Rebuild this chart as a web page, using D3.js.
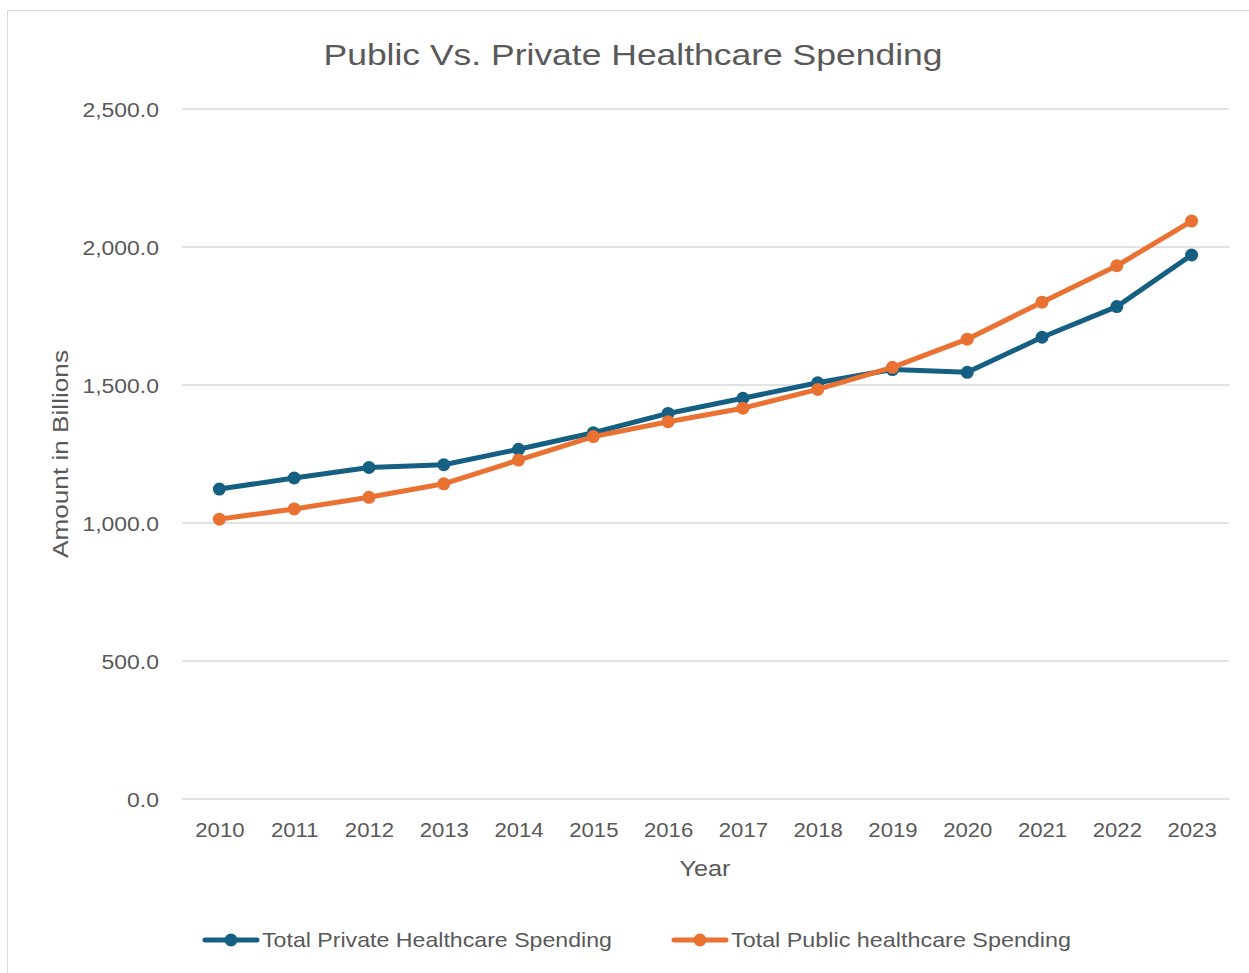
<!DOCTYPE html>
<html>
<head>
<meta charset="utf-8">
<script src="https://cdn.jsdelivr.net/npm/d3@7"></script>
<style>
  html, body { margin: 0; padding: 0; background: #fff; }
  svg { display: block; }
  text { font-family: "Liberation Sans", Arial, sans-serif; fill: #595959; }
</style>
</head>
<body>
<svg id="chart" width="1249" height="973"></svg>
<script>
const years = [2010, 2011, 2012, 2013, 2014, 2015, 2016, 2017, 2018, 2019, 2020, 2021, 2022, 2023];
const privateSpending = [1123, 1163, 1201, 1211, 1267, 1327, 1397, 1452, 1508, 1556, 1546, 1673, 1784, 1971];
const publicSpending = [1014, 1051, 1093, 1142, 1228, 1313, 1367, 1416, 1484, 1564, 1666, 1800, 1932, 2094];
const yTicks = [0, 500, 1000, 1500, 2000, 2500];
const seriesNames = ["Total Private Healthcare Spending", "Total Public healthcare Spending"];
const seriesColors = ["#156082", "#E97132"];

const svg = d3.select("#chart");

// widen a text element horizontally by a factor
function stretch(sel, factor) {
  sel.each(function () {
    const w = this.getComputedTextLength();
    d3.select(this)
      .attr("textLength", w * factor)
      .attr("lengthAdjust", "spacingAndGlyphs");
  });
}

// chart frame
svg.append("rect")
  .attr("x", 7.5).attr("y", 10.5)
  .attr("width", 1260).attr("height", 980)
  .attr("fill", "#fff").attr("stroke", "#d9d9d9").attr("stroke-width", 1);

const plot = { left: 182, right: 1229, top: 109, bottom: 799 };

const x = d3.scalePoint()
  .domain(years)
  .range([plot.left, plot.right])
  .padding(0.5);

const y = d3.scaleLinear()
  .domain([0, 2500])
  .range([plot.bottom, plot.top]);

// horizontal gridlines
svg.append("g")
  .selectAll("line")
  .data(yTicks)
  .join("line")
  .attr("x1", plot.left).attr("x2", plot.right)
  .attr("y1", d => y(d)).attr("y2", d => y(d))
  .attr("stroke", "#d9d9d9").attr("stroke-width", 1.5);

// y axis labels
const fmt = d3.format(",.1f");
const yAxis = svg.append("g")
  .attr("transform", `translate(${plot.left - 23},0)`)
  .call(d3.axisLeft(y).tickValues(yTicks).tickFormat(fmt).tickSize(0).tickPadding(0));
yAxis.select(".domain").remove();
yAxis.selectAll("text")
  .style("font-family", "'Liberation Sans', Arial, sans-serif")
  .style("font-size", "20.5px").attr("fill", "#595959").attr("dy", "0.35em")
  .call(stretch, 1.12);

// x axis labels
const xAxis = svg.append("g")
  .attr("transform", `translate(0,${plot.bottom})`)
  .call(d3.axisBottom(x).tickSize(0).tickPadding(31));
xAxis.select(".domain").remove();
xAxis.selectAll("text")
  .style("font-family", "'Liberation Sans', Arial, sans-serif")
  .style("font-size", "20.5px").attr("fill", "#595959").attr("dy", "0.35em")
  .call(stretch, 1.08);

// title
svg.append("text")
  .attr("x", 633).attr("y", 65)
  .attr("text-anchor", "middle")
  .style("font-size", "30px")
  .text("Public Vs. Private Healthcare Spending")
  .attr("textLength", 619)
  .attr("lengthAdjust", "spacingAndGlyphs");

// axis titles
svg.append("text")
  .attr("x", 705).attr("y", 876)
  .attr("text-anchor", "middle")
  .style("font-size", "21.5px")
  .text("Year")
  .attr("textLength", 51)
  .attr("lengthAdjust", "spacingAndGlyphs");

svg.append("text")
  .attr("transform", "translate(68,454) rotate(-90)")
  .attr("text-anchor", "middle")
  .style("font-size", "21.5px")
  .text("Amount in Billions")
  .attr("textLength", 208)
  .attr("lengthAdjust", "spacingAndGlyphs");

// series lines and markers
const line = d3.line()
  .x((d, i) => x(years[i]))
  .y(d => y(d));

const series = [privateSpending, publicSpending];
series.forEach((values, s) => {
  const g = svg.append("g");
  g.append("path")
    .datum(values)
    .attr("d", line)
    .attr("fill", "none")
    .attr("stroke", seriesColors[s])
    .attr("stroke-width", 5)
    .attr("stroke-linejoin", "round")
    .attr("stroke-linecap", "round");
  g.selectAll("circle")
    .data(values)
    .join("circle")
    .attr("cx", (d, i) => x(years[i]))
    .attr("cy", d => y(d))
    .attr("r", 6.5)
    .attr("fill", seriesColors[s]);
});

// legend
const legendItems = [
  { x: 203, textX: 262, width: 350 },
  { x: 672, textX: 731, width: 340 }
];
legendItems.forEach((item, s) => {
  const g = svg.append("g");
  g.append("line")
    .attr("x1", item.x + 2).attr("x2", item.x + 54)
    .attr("y1", 940).attr("y2", 940)
    .attr("stroke", seriesColors[s]).attr("stroke-width", 5)
    .attr("stroke-linecap", "round");
  g.append("circle")
    .attr("cx", item.x + 28).attr("cy", 940).attr("r", 6.5)
    .attr("fill", seriesColors[s]);
  g.append("text")
    .attr("x", item.textX).attr("y", 940)
    .attr("dy", "0.35em")
    .style("font-size", "21px")
    .text(seriesNames[s])
    .attr("textLength", item.width)
    .attr("lengthAdjust", "spacingAndGlyphs");
});
</script>
</body>
</html>
